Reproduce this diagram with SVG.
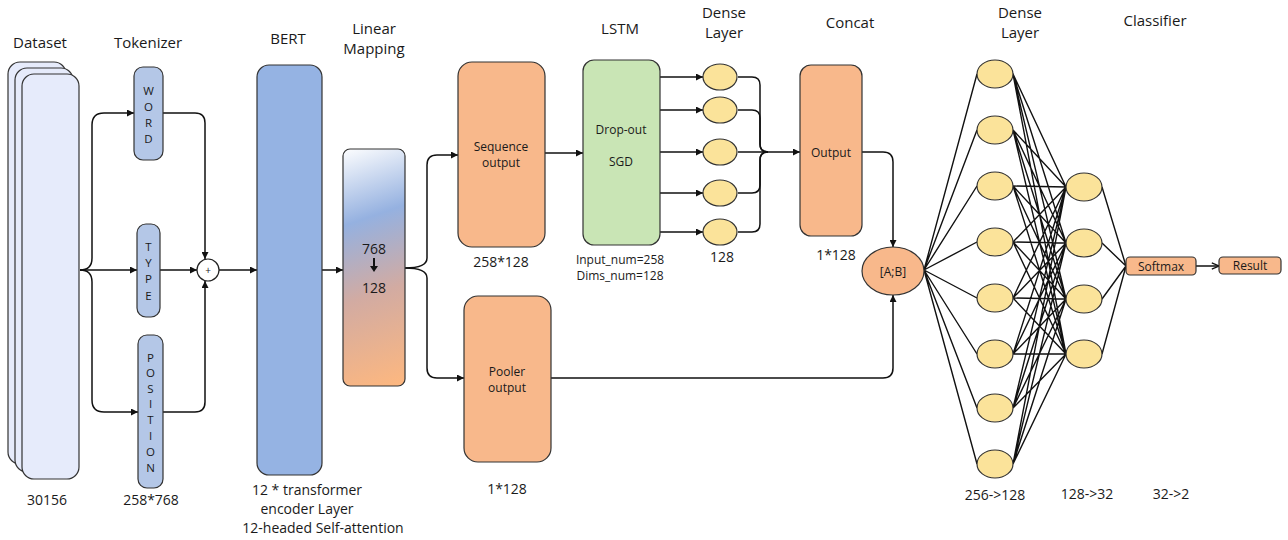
<svg xmlns="http://www.w3.org/2000/svg" width="1288" height="540" viewBox="0 0 1288 540">
<style>
text{font-family:"Open Sans","Noto Sans","DejaVu Sans",sans-serif;fill:#1a1a1a}
.h{font-size:15px;text-anchor:middle}
.m{font-size:14px;text-anchor:middle}
.s{font-size:12px;text-anchor:middle;dominant-baseline:central}
.v{font-size:11.5px;text-anchor:middle;dominant-baseline:central}
.ln{fill:none;stroke:#111;stroke-width:1.5}
.ar{fill:none;stroke:#111;stroke-width:1.5;marker-end:url(#ah)}
.nn{fill:none;stroke:#111;stroke-width:1.4}
.tok{fill:#b4c7e7;stroke:#333;stroke-width:1.2}
.ds{fill:#e6ebfb;stroke:#333;stroke-width:1.2}
.or{fill:#f8b88b;stroke:#333;stroke-width:1.2}
.el{fill:#fbe39a;stroke:#333;stroke-width:1.2}
</style>
<defs>
<marker id="ah" viewBox="0 0 10 10" refX="10" refY="5" markerWidth="7" markerHeight="7" markerUnits="userSpaceOnUse" orient="auto">
<path d="M0,0 L10,5 L0,10 z" fill="#111"/>
</marker>
<marker id="ah2" viewBox="0 0 10 10" refX="10" refY="5" markerWidth="8" markerHeight="8" markerUnits="userSpaceOnUse" orient="auto">
<path d="M1,1 L10,5 L1,9" fill="none" stroke="#111" stroke-width="1.6"/>
</marker>
<linearGradient id="lg" gradientUnits="userSpaceOnUse" x1="335" y1="150" x2="415" y2="385">
<stop offset="0" stop-color="#ffffff"/>
<stop offset="0.3" stop-color="#95b1e0"/>
<stop offset="0.6" stop-color="#d2aba2"/>
<stop offset="1" stop-color="#ffb87e"/>
</linearGradient>
</defs>

<!-- Headers -->
<g id="headers">
<text class="h" x="40" y="48">Dataset</text>
<text class="h" x="148" y="48">Tokenizer</text>
<text class="h" x="288" y="44">BERT</text>
<text class="h" x="374" y="34">Linear</text>
<text class="h" x="374" y="54">Mapping</text>
<text class="h" x="620" y="34">LSTM</text>
<text class="h" x="724" y="18">Dense</text>
<text class="h" x="724" y="38">Layer</text>
<text class="h" x="850" y="28">Concat</text>
<text class="h" x="1020" y="18">Dense</text>
<text class="h" x="1020" y="38">Layer</text>
<text class="h" x="1155" y="26">Classifier</text>
</g>

<!-- Connectors -->
<g id="connectors">
<path class="ar" d="M80,270 H137"/>
<path class="ar" d="M80,270 Q92,270 92,258 V125 Q92,113 104,113 H134"/>
<path class="ar" d="M80,270 Q92,270 92,282 V400 Q92,412 104,412 H138"/>
<path class="ar" d="M163,113 H195 Q205,113 205,123 V259"/>
<path class="ar" d="M160,270 H197"/>
<path class="ar" d="M163,412 H195 Q205,412 205,402 V281"/>
<path class="ar" d="M219,270 H257"/>
<path class="ar" d="M322,270 H343"/>
<path class="ar" d="M405,268 Q427,268 427,258 V165 Q427,155 437,155 H458"/>
<path class="ar" d="M405,268 Q427,268 427,278 V368 Q427,378 437,378 H464"/>
<path class="ar" d="M545,153 H583"/>
<path class="ar" d="M660,77 H703"/>
<path class="ar" d="M660,110 H703"/>
<path class="ar" d="M660,152 H703"/>
<path class="ar" d="M660,193 H703"/>
<path class="ar" d="M660,232 H703"/>
<path class="ln" d="M738,77 H752 Q760,77 760,85 V144 Q760,152 768,152"/>
<path class="ln" d="M738,110 H752 Q760,110 760,118 V144 Q760,152 768,152"/>
<path class="ln" d="M738,193 H752 Q760,193 760,185 V160 Q760,152 768,152"/>
<path class="ln" d="M738,232 H752 Q760,232 760,224 V160 Q760,152 768,152"/>
<path class="ar" d="M738,152 H800"/>
<path class="ar" d="M862,152 H883 Q893,152 893,162 V247"/>
<path class="ar" d="M551,378 H883 Q893,378 893,368 V295"/>
<path style="fill:none;stroke:#111;stroke-width:1.5;marker-end:url(#ah2)" d="M1196,266 H1219"/>
</g>

<!-- Dense network lines -->
<g id="network-lines">
<path class="nn" d="M924,270 L977,74 M924,270 L977,130 M924,270 L977,186 M924,270 L977,242 M924,270 L977,298 M924,270 L977,354 M924,270 L977,408 M924,270 L977,464"/>
<path class="nn" d="
M1013,74 L1066,187 M1013,74 L1066,243 M1013,74 L1066,299 M1013,74 L1066,354
M1013,130 L1066,187 M1013,130 L1066,243 M1013,130 L1066,299 M1013,130 L1066,354
M1013,186 L1066,187 M1013,186 L1066,243 M1013,186 L1066,299 M1013,186 L1066,354
M1013,242 L1066,187 M1013,242 L1066,243 M1013,242 L1066,299 M1013,242 L1066,354
M1013,298 L1066,187 M1013,298 L1066,243 M1013,298 L1066,299 M1013,298 L1066,354
M1013,354 L1066,187 M1013,354 L1066,243 M1013,354 L1066,299 M1013,354 L1066,354
M1013,408 L1066,187 M1013,408 L1066,243 M1013,408 L1066,299 M1013,408 L1066,354
M1013,464 L1066,187 M1013,464 L1066,243 M1013,464 L1066,299 M1013,464 L1066,354"/>
<path class="nn" d="M1102,187 L1126,266 M1102,243 L1126,266 M1102,299 L1126,266 M1102,354 L1126,266"/>
</g>

<!-- Dataset -->
<g id="dataset">
<rect class="ds" x="8" y="62" width="58" height="402" rx="12"/>
<rect class="ds" x="15" y="68" width="58" height="404" rx="12"/>
<rect class="ds" x="22" y="74" width="57" height="405" rx="12"/>
<text class="m" x="47" y="505">30156</text>
</g>

<!-- Tokenizer -->
<g id="tok-word">
<rect class="tok" x="134" y="67" width="29" height="93" rx="9"/>
<text class="v" x="148.5" y="90">W</text>
<text class="v" x="148.5" y="106">O</text>
<text class="v" x="148.5" y="122">R</text>
<text class="v" x="148.5" y="138">D</text>
</g>
<g id="tok-type">
<rect class="tok" x="137" y="224" width="23" height="93" rx="9"/>
<text class="v" x="148.5" y="246">T</text>
<text class="v" x="148.5" y="262">Y</text>
<text class="v" x="148.5" y="278">P</text>
<text class="v" x="148.5" y="295">E</text>
</g>
<g id="tok-position">
<rect class="tok" x="138" y="335" width="25" height="153" rx="9"/>
<text class="v" x="150.5" y="357">P</text>
<text class="v" x="150.5" y="372">O</text>
<text class="v" x="150.5" y="388">S</text>
<text class="v" x="150.5" y="403">I</text>
<text class="v" x="150.5" y="419">T</text>
<text class="v" x="150.5" y="435">I</text>
<text class="v" x="150.5" y="451">O</text>
<text class="v" x="150.5" y="467">N</text>
<text class="m" x="151" y="505">258*768</text>
</g>
<g id="sum">
<circle cx="208" cy="270" r="11" fill="#fff" stroke="#222" stroke-width="1.2"/>
<text class="v" x="208" y="270" style="font-size:10px">+</text>
</g>

<!-- BERT -->
<g id="bert">
<rect x="257" y="65" width="65" height="410" rx="12" fill="#95b3e3" stroke="#333" stroke-width="1.2"/>
<text class="m" x="307" y="495">12 * transformer</text>
<text class="m" x="307" y="514">encoder Layer</text>
<text class="m" x="323" y="533">12-headed Self-attention</text>
</g>

<!-- Linear Mapping -->
<g id="linear">
<rect x="343" y="149" width="62" height="237" rx="7" fill="url(#lg)" stroke="#333" stroke-width="1.2"/>
<text class="m" x="374" y="254">768</text>
<path d="M374,258 V270" stroke="#111" stroke-width="2"/>
<path d="M370,266 L374,272 L378,266 z" fill="#111"/>
<text class="m" x="374" y="293">128</text>
</g>

<!-- Sequence output -->
<g id="sequence">
<rect class="or" x="458" y="62" width="87" height="185" rx="14"/>
<text class="s" x="501" y="146">Sequence</text>
<text class="s" x="501" y="162">output</text>
<text class="m" x="501" y="267">258*128</text>
</g>

<!-- Pooler output -->
<g id="pooler">
<rect class="or" x="464" y="296" width="87" height="166" rx="14"/>
<text class="s" x="507" y="371">Pooler</text>
<text class="s" x="507" y="387">output</text>
<text class="m" x="507" y="494">1*128</text>
</g>

<!-- LSTM -->
<g id="lstm">
<rect x="583" y="60" width="77" height="185" rx="11" fill="#c9e5b5" stroke="#333" stroke-width="1.2"/>
<text class="s" x="621" y="129">Drop-out</text>
<text class="s" x="621" y="161">SGD</text>
<text class="s" x="620" y="259">Input_num=258</text>
<text class="s" x="620" y="275">Dims_num=128</text>
</g>

<!-- Dense layer (LSTM) -->
<g id="dense1">
<ellipse class="el" cx="720" cy="77" rx="17" ry="13"/>
<ellipse class="el" cx="720" cy="110" rx="17" ry="13"/>
<ellipse class="el" cx="720" cy="152" rx="17" ry="13"/>
<ellipse class="el" cx="720" cy="193" rx="17" ry="13"/>
<ellipse class="el" cx="720" cy="232" rx="17" ry="13"/>
<text class="m" x="722" y="262">128</text>
</g>

<!-- Concat output -->
<g id="concat">
<rect class="or" x="800" y="65" width="62" height="171" rx="11"/>
<text class="s" x="831" y="152">Output</text>
<text class="m" x="836" y="260">1*128</text>
</g>

<!-- [A;B] -->
<g id="ab">
<ellipse class="or" cx="893" cy="271" rx="31" ry="24"/>
<text class="s" x="893" y="271">[A;B]</text>
</g>

<!-- Dense network nodes -->
<g id="dense2">
<ellipse class="el" cx="995" cy="74" rx="18" ry="14"/>
<ellipse class="el" cx="995" cy="130" rx="18" ry="14"/>
<ellipse class="el" cx="995" cy="186" rx="18" ry="14"/>
<ellipse class="el" cx="995" cy="242" rx="18" ry="14"/>
<ellipse class="el" cx="995" cy="298" rx="18" ry="14"/>
<ellipse class="el" cx="995" cy="354" rx="18" ry="14"/>
<ellipse class="el" cx="995" cy="408" rx="18" ry="14"/>
<ellipse class="el" cx="995" cy="464" rx="18" ry="14"/>
<text class="m" x="995" y="500">256-&gt;128</text>
</g>
<g id="dense3">
<ellipse class="el" cx="1084" cy="187" rx="18" ry="14"/>
<ellipse class="el" cx="1084" cy="243" rx="18" ry="14"/>
<ellipse class="el" cx="1084" cy="299" rx="18" ry="14"/>
<ellipse class="el" cx="1084" cy="354" rx="18" ry="14"/>
<text class="m" x="1087" y="499">128-&gt;32</text>
</g>

<!-- Classifier -->
<g id="softmax">
<rect class="or" x="1126" y="257" width="70" height="18" rx="4"/>
<text class="s" x="1161" y="266">Softmax</text>
<text class="m" x="1171" y="499">32-&gt;2</text>
</g>
<g id="result">
<rect class="or" x="1219" y="257" width="62" height="17" rx="4"/>
<text class="s" x="1250" y="265.5">Result</text>
</g>
</svg>
